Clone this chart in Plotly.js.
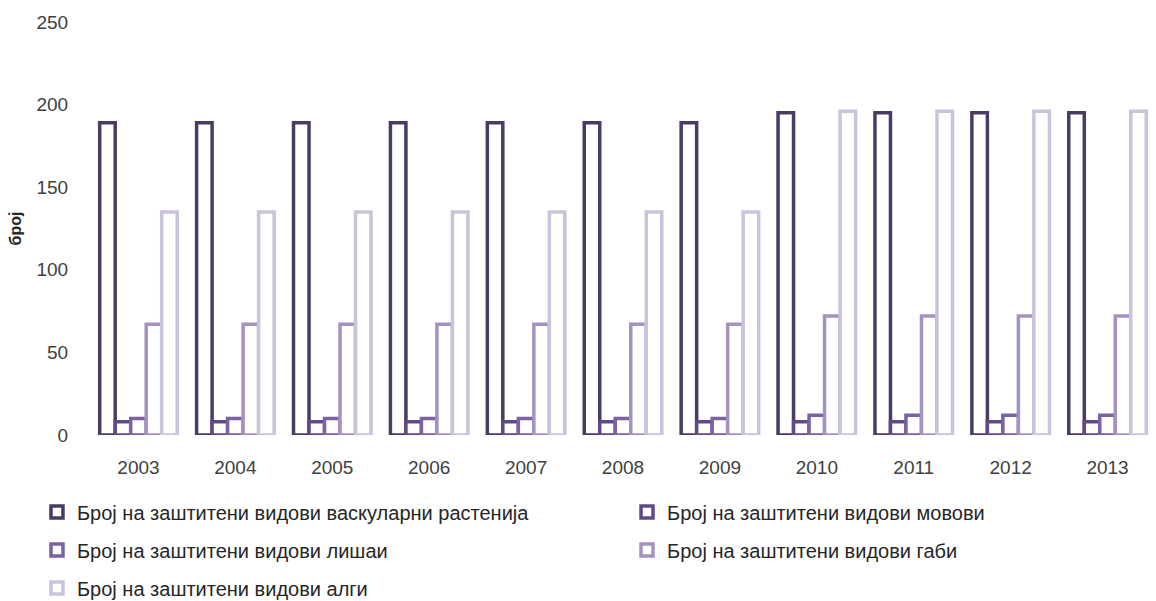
<!DOCTYPE html>
<html><head><meta charset="utf-8">
<script src="https://cdn.plot.ly/plotly-3.0.1.min.js"></script>
<style>body{margin:0;background:#fff}#chart{width:1156px;height:601px}</style>
</head><body><div id="chart"></div>
<script>
const years = ['2003','2004','2005','2006','2007','2008','2009','2010','2011','2012','2013'];
const vascular = [189,189,189,189,189,189,189,195,195,195,195];
const mosses   = [8,8,8,8,8,8,8,8,8,8,8];
const lichens  = [10,10,10,10,10,10,10,12,12,12,12];
const fungi    = [67,67,67,67,67,67,67,72,72,72,72];
const algae    = [135,135,135,135,135,135,135,196,196,196,196];
const names = ['Број на заштитени видови васкуларни растенија','Број на заштитени видови мовови','Број на заштитени видови лишаи','Број на заштитени видови габи','Број на заштитени видови алги'];
const colors = ['#4a3b63','#5f4a85','#7a62a3','#a492c1','#cbc3dc'];
const series = [vascular, mosses, lichens, fungi, algae];
const legendIds = ['legend','legend2','legend3','legend4','legend5'];
const traces = series.map((s,i)=>({
  type:'bar', x: years, y: s, name: names[i], legend: legendIds[i],
  marker:{color:'#ffffff', line:{color:colors[i], width:3.5}},
  hoverinfo:'y'
}));
// legend placement (container coords): two columns, three rows
const legPos = [[0.032,0.148],[0.5424,0.148],[0.032,0.085],[0.5424,0.085],[0.032,0.0216]];
const legFont = {family:'Liberation Sans, Arial, sans-serif', size:20, color:'#262626'};
const layout = {
  width:1156, height:601,
  margin:{l:90, r:0, t:22, b:166},
  paper_bgcolor:'#fff', plot_bgcolor:'#fff',
  font:{family:'Liberation Sans, Arial, sans-serif', size:19, color:'#404040'},
  barmode:'group', bargap:0.2, bargroupgap:0,
  xaxis:{type:'category', showgrid:false, zeroline:false, showline:false,
    ticks:'outside', ticklen:15, tickcolor:'rgba(0,0,0,0)', tickfont:{size:19, color:'#404040'}},
  yaxis:{range:[0,250], dtick:50, showgrid:false, zeroline:false, showline:false,
    ticks:'outside', ticklen:17, tickcolor:'rgba(0,0,0,0)', tickfont:{size:19, color:'#404040'},
    title:{text:'<b>број</b>', font:{size:16, color:'#262626'}, standoff:10}},
  showlegend:true
};
legendIds.forEach((id,i)=>{
  layout[id] = {orientation:'h', xref:'container', yref:'container',
    x:legPos[i][0], xanchor:'left', y:legPos[i][1], yanchor:'middle',
    font:legFont, bgcolor:'rgba(0,0,0,0)', borderwidth:0};
});
Plotly.newPlot('chart', traces, layout, {displayModeBar:false});
</script></body></html>
